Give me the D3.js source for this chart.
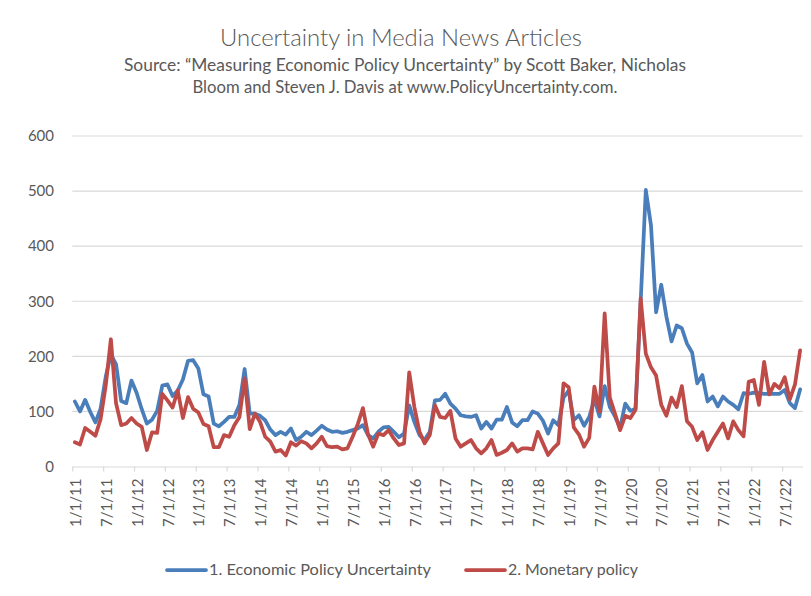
<!DOCTYPE html>
<html><head><meta charset="utf-8">
<script src="https://cdn.jsdelivr.net/npm/d3@7"></script>
<style>
body{margin:0;background:#fff}
text{font-family:Lato,'Open Sans',sans-serif;fill:#595959}
</style></head>
<body><svg id="c" width="811" height="596"></svg>
<script>
// Monthly data, Jan 2011 .. Oct 2022
const epu = [118,100,121,99,80,105,163,203,186,119,115,156,
134,104,78,85,101,147,149,128,138,158,192,193,
178,131,127,78,73,81,90,90,112,177,96,96,
92,84,67,57,63,58,69,48,54,63,57,65,
74,67,63,64,61,63,66,69,75,57,51,63,
71,72,63,53,60,111,81,57,48,63,120,121,
132,114,105,93,91,90,93,69,81,69,85,85,
108,80,73,84,84,100,96,83,60,84,75,125,
138,84,93,74,90,122,91,146,108,91,70,114,
101,105,300,502,438,280,330,272,227,256,251,223,
207,151,166,118,127,109,127,118,112,104,133,132,
134,133,132,132,132,132,139,115,106,140];
const monetary = [44,40,70,63,56,86,147,231,115,75,78,88,
78,72,30,62,61,132,120,107,138,88,126,105,
98,77,73,35,35,57,54,75,90,160,68,96,
81,54,45,27,30,20,44,38,46,42,33,42,
54,37,35,36,31,33,54,77,106,58,36,60,
57,66,51,39,42,171,108,63,42,57,111,90,
88,101,51,36,42,48,33,24,33,48,21,25,
30,42,27,33,33,31,63,42,21,33,42,151,
144,71,58,36,52,145,100,278,125,96,66,92,
88,103,305,205,180,165,112,92,125,108,146,82,
72,48,62,30,48,63,78,51,82,66,55,154,
157,112,190,131,150,142,162,122,149,211];
const seriesNames = ["1. Economic Policy Uncertainty","2. Monetary policy"];
const xTickLabels = ["1/1/11","7/1/11","1/1/12","7/1/12","1/1/13","7/1/13","1/1/14","7/1/14",
"1/1/15","7/1/15","1/1/16","7/1/16","1/1/17","7/1/17","1/1/18","7/1/18",
"1/1/19","7/1/19","1/1/20","7/1/20","1/1/21","7/1/21","1/1/22","7/1/22"];
const yTicks = [0,100,200,300,400,500,600];
const title = "Uncertainty in Media News Articles";
const subtitle = ["Source: \u201cMeasuring Economic Policy Uncertainty\u201d by Scott Baker, Nicholas",
"Bloom and Steven J. Davis at www.PolicyUncertainty.com."];

const svg = d3.select("#c");
const nMonths = 142;
const x = d3.scaleLinear().domain([0, nMonths]).range([72.3, 802.7]);
const y = d3.scaleLinear().domain([0, 600]).range([466.5, 136]);
const colors = ["#4a7ebb", "#be4b48"];

// gridlines
svg.append("g").selectAll("line").data(yTicks.filter(d => d > 0)).join("line")
  .attr("x1", x(0)).attr("x2", x(nMonths))
  .attr("y1", d => y(d)).attr("y2", d => y(d))
  .attr("stroke", "#d9d9d9").attr("stroke-width", 1.2);

// y labels
svg.append("g").selectAll("text").data(yTicks).join("text")
  .attr("x", 54).attr("y", d => y(d)).attr("dy", "0.35em")
  .attr("text-anchor", "end").style("font-size", "15px")
  .text(d => d);

// x axis
const tickMonths = xTickLabels.map((d, i) => i * 6);
const xAxis = d3.axisBottom(x).tickValues(tickMonths)
  .tickFormat((d, i) => xTickLabels[i]).tickSize(5).tickSizeOuter(0);
const gx = svg.append("g").attr("transform", `translate(0,${y(0)})`).call(xAxis);
gx.select(".domain").attr("stroke", "#d9d9d9").attr("stroke-width", 1.2);
gx.selectAll(".tick line").attr("stroke", "#d9d9d9").attr("stroke-width", 1.2);
gx.selectAll(".tick text")
  .attr("transform", "rotate(-90)")
  .attr("text-anchor", "end")
  .attr("x", -12).attr("y", 3).attr("dy", "0.35em")
  .attr("fill", "#595959")
  .style("font-size", "15px").style("font-family", "Lato,'Open Sans',sans-serif");

// lines
const line = d3.line().x((d, i) => x(i + 0.5)).y(d => y(d));
[epu, monetary].forEach((s, k) => {
  svg.append("path").datum(s)
    .attr("d", line).attr("fill", "none")
    .attr("stroke", colors[k]).attr("stroke-width", 3.75)
    .attr("stroke-linejoin", "round").attr("stroke-linecap", "round");
});

// titles
svg.append("text").attr("x", 401).attr("y", 46).attr("text-anchor", "middle")
  .style("font-size", "23px").style("font-weight", "300")
  .attr("textLength", 362).attr("lengthAdjust", "spacingAndGlyphs")
  .text(title);
const subW = [562, 425];
subtitle.forEach((t, i) => {
  svg.append("text").attr("x", 405).attr("y", 71 + i * 22).attr("text-anchor", "middle")
    .style("font-size", "16.5px").attr("textLength", subW[i]).attr("lengthAdjust", "spacingAndGlyphs")
    .text(t);
});

// legend
const legX = [167, 466], legW = [222, 130];
seriesNames.forEach((n, k) => {
  svg.append("line").attr("x1", legX[k]).attr("x2", legX[k] + 39)
    .attr("y1", 570).attr("y2", 570)
    .attr("stroke", colors[k]).attr("stroke-width", 3.75).attr("stroke-linecap", "round");
  svg.append("text").attr("x", legX[k] + 42).attr("y", 570).attr("dy", "0.35em")
    .style("font-size", "15px").attr("textLength", legW[k]).attr("lengthAdjust", "spacingAndGlyphs")
    .text(n);
});
</script></body></html>
